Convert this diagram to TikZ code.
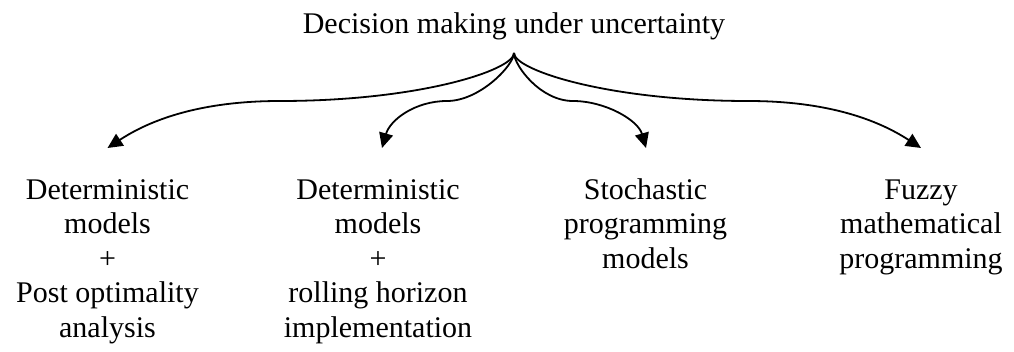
\documentclass[tikz,border=0pt]{standalone}
\usepackage{fontspec}
\setmainfont{Liberation Serif}
\usetikzlibrary{arrows.meta}
\begin{document}
\begin{tikzpicture}[x=1pt,y=-1pt,
  label text/.style={inner sep=0pt,align=center,
    font=\fontsize{30}{34.5}\selectfont},
  branch/.style={line width=1.8pt,
    -{Triangle[length=15pt,width=14pt]}}]
\useasboundingbox (0,0) rectangle (1014,352);

% root
\node[label text,anchor=base] (root) at (514,34) {Decision making under uncertainty};
\coordinate (fork) at (514,53);

% the four approaches (a strut on the first line keeps the baselines level)
\node[label text,anchor=north] (det)   at (107.5,175) {\strut Deterministic\\models\\+\\Post optimality\\analysis};
\node[label text,anchor=north] (roll)  at (378,175)   {\strut Deterministic\\models\\+\\rolling horizon\\implementation};
\node[label text,anchor=north] (stoch) at (645.5,175) {\strut Stochastic\\programming\\models};
\node[label text,anchor=north] (fuzzy) at (921,175)   {\strut Fuzzy\\mathematical\\programming};

% arrow tips just above each block
\coordinate (tdet)   at ([yshift=27pt]det.north);
\coordinate (troll)  at ([xshift=4pt,yshift=27pt]roll.north);
\coordinate (tstoch) at ([xshift=0.5pt,yshift=27pt]stoch.north);
\coordinate (tfuzzy) at ([yshift=27pt]fuzzy.north);

% curly branches
\draw[branch] (fork) .. controls (514,70) and (420,101) .. (280,101)
                     .. controls (200,101) and (150,120) .. (tdet);
\draw[branch] (fork) .. controls (514,65) and (480,101) .. (447,101)
                     .. controls (415,101) and (390,120) .. (troll);
\draw[branch] (fork) .. controls (514,65) and (540,101) .. (573,101)
                     .. controls (605,101) and (638,120) .. (tstoch);
\draw[branch] (fork) .. controls (514,70) and (608,101) .. (748,101)
                     .. controls (828,101) and (878,120) .. (tfuzzy);
\end{tikzpicture}
\end{document}
